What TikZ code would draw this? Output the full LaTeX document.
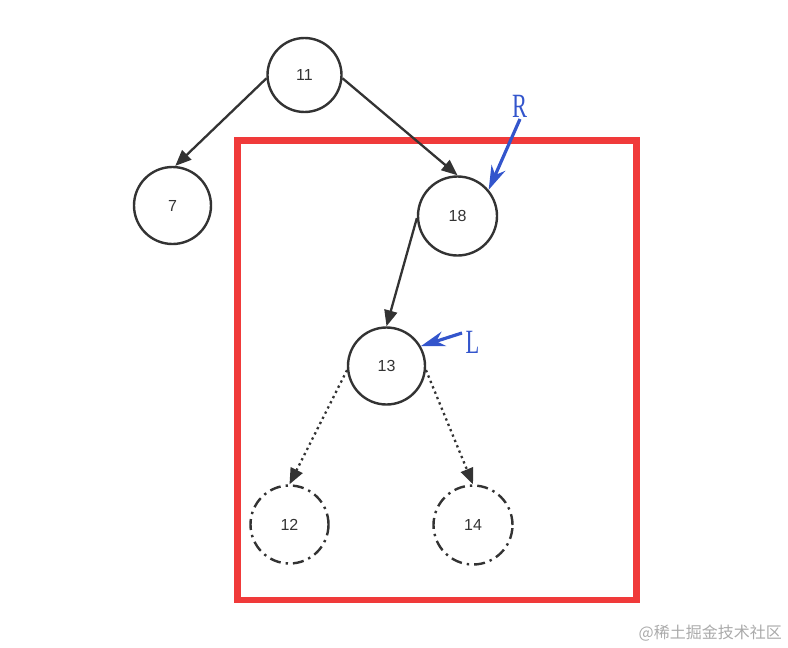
\documentclass[tikz,border=0pt]{standalone}
\usepackage{fontspec}
\setmainfont{Liberation Sans}
\newfontfamily\serifann{Liberation Serif}
\newfontfamily\cjk{Noto Sans CJK SC}
\usetikzlibrary{arrows.meta}
\definecolor{ink}{HTML}{333333}
\definecolor{boxred}{HTML}{F03A3A}
\definecolor{annblue}{HTML}{3355CC}
\definecolor{wmgray}{HTML}{AAAAAA}
\tikzset{
  treenode/.style={circle, draw=ink, line width=2.4pt, minimum size=77pt, inner sep=0pt,
    text=ink, font=\fontsize{16}{18}\selectfont},
  ghostnode/.style={treenode, dash pattern=on 11pt off 5pt on 2.4pt off 5pt},
  edge/.style={draw=ink, line width=2.3pt, -{Triangle[length=16pt,width=13pt]}},
  dotedge/.style={edge, dash pattern=on 2.3pt off 3.5pt},
  annarrow/.style={draw=annblue, fill=annblue, line width=3.2pt, -{Stealth[length=24pt,width=15pt]}},
  annlabel/.style={text=annblue, font=\serifann\fontsize{34}{36}\selectfont, xscale=0.66, inner sep=0pt}
}
\begin{document}
\begin{tikzpicture}[x=1pt,y=-1pt]
\useasboundingbox (0,0) rectangle (788,648);
\draw[boxred, line width=6.5pt] (237.5,140.5) rectangle (636.5,600);
\node[treenode, minimum size=74pt] (n11) at (304.5,75) {11};
\node[treenode] (n7) at (172.5,205.5) {7};
\node[treenode, minimum size=79pt] (n18) at (457.5,216) {18};
\node[treenode] (n13) at (386.5,366) {13};
\node[ghostnode, minimum size=78pt] (n12) at (289.5,524.5) {12};
\node[ghostnode, minimum size=79pt] (n14) at (473,525) {14};
\draw[edge] (n11.185) -- (n7.86);
\draw[edge] (n11.-5) -- (n18.north);
\draw[edge] (n18.183) -- (n13.north);
\draw[dotedge] (n13.186) -- (n12.north);
\draw[dotedge] (n13.-6) -- (n14.north);
\node[annlabel] (R) at (519.5,106) {R};
\node[annlabel] (L) at (472.5,342) {L};
\coordinate (rtail) at (520,119);
\coordinate (ltail) at (462,333);
\draw[annarrow] (rtail) -- (n18.40);
\draw[annarrow] (ltail) -- (n13.30);
\node[text=wmgray, font=\cjk\fontsize{16}{18}\selectfont, anchor=east, inner sep=0pt] (wm) at (782,633) {@稀土掘金技术社区};
\end{tikzpicture}
\end{document}
